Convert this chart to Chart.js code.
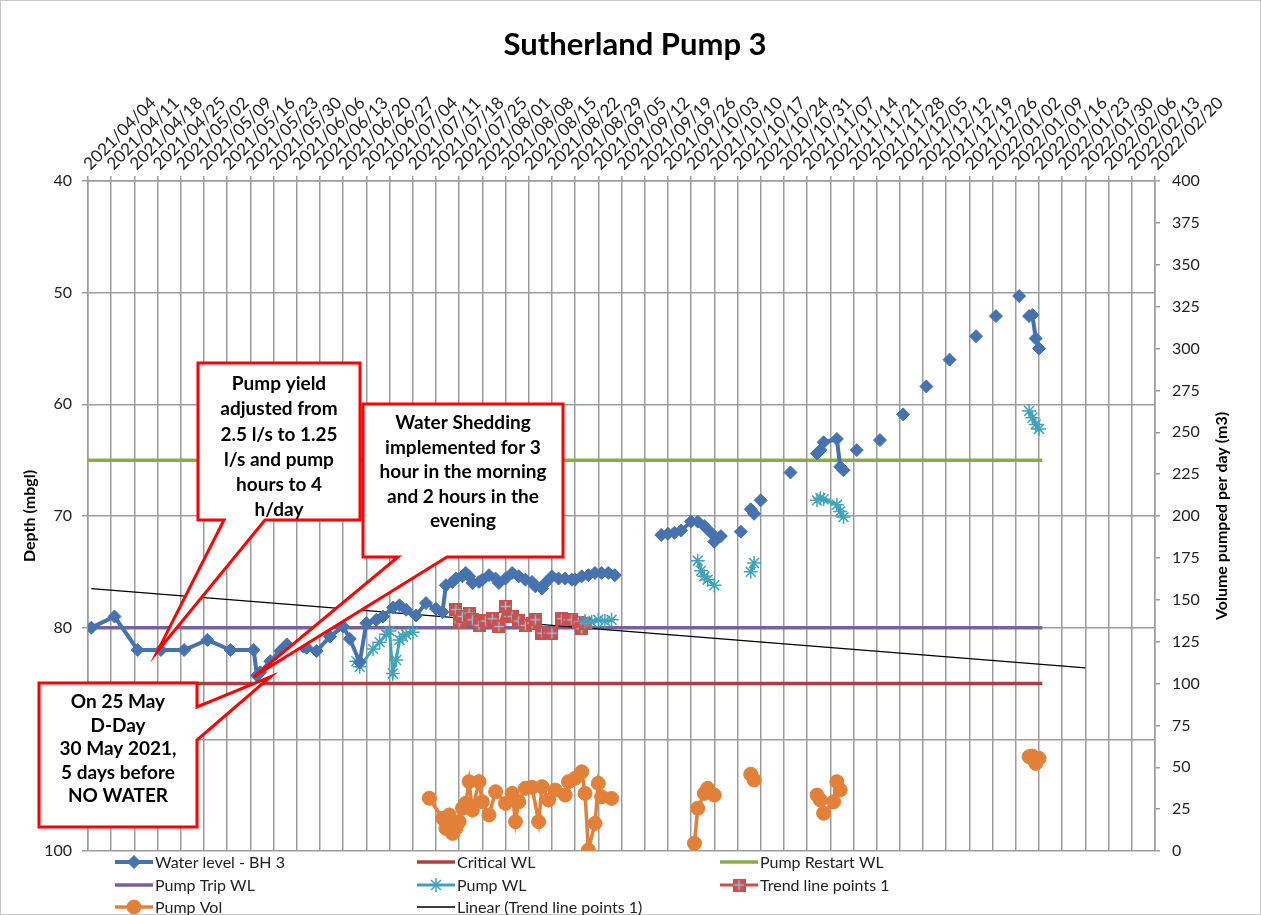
<!DOCTYPE html>
<html>
<head>
<meta charset="utf-8">
<title>Sutherland Pump 3</title>
<script src="https://cdn.jsdelivr.net/npm/chart.js@4.4.1/dist/chart.umd.min.js"></script>
<style>
  html, body { margin: 0; padding: 0; background: #fff; }
  #chart { display: block; }
</style>
</head>
<body>
<canvas id="chart" width="1261" height="915"></canvas>
<script>
// x axis runs weekly from the first to the last date label
const startDate = '2021/04/04';
const endDate = '2022/02/20';

// null = gap in the line
const waterDates = [
  '2021/04/05', '2021/04/12', '2021/04/19', '2021/04/26', '2021/05/03', '2021/05/10', '2021/05/17', '2021/05/24',
  '2021/05/25', '2021/05/26', '2021/05/29', '2021/06/01', '2021/06/03', '2021/06/08', '2021/06/09', '2021/06/12',
  '2021/06/16', '2021/06/20', '2021/06/22', '2021/06/25', '2021/06/27', '2021/06/30', '2021/07/02', '2021/07/05',
  '2021/07/07', '2021/07/09', '2021/07/12', '2021/07/15', '2021/07/18', '2021/07/20', '2021/07/21', '2021/07/23',
  '2021/07/24', '2021/07/26', '2021/07/27', '2021/07/28', '2021/07/29', '2021/07/31', '2021/08/01', '2021/08/03',
  '2021/08/05', '2021/08/06', '2021/08/08', '2021/08/10', '2021/08/12', '2021/08/14', '2021/08/16', '2021/08/17',
  '2021/08/19', '2021/08/20', '2021/08/22', '2021/08/24', '2021/08/26', '2021/08/28', '2021/08/29', '2021/08/31',
  '2021/09/02', '2021/09/04', '2021/09/06', '2021/09/08', '2021/09/10', null,
  '2021/09/24', '2021/09/26', '2021/09/28', '2021/09/30', '2021/10/03', '2021/10/05', '2021/10/07', '2021/10/09',
  '2021/10/10', '2021/10/12', null, '2021/10/18', null, '2021/10/21', '2021/10/22', null, '2021/10/24', null,
  '2021/11/02', null, '2021/11/10', '2021/11/11', '2021/11/12', '2021/11/16', '2021/11/17', '2021/11/18', null,
  '2021/11/22', null, '2021/11/29', null, '2021/12/06', null, '2021/12/13', null, '2021/12/20', null,
  '2021/12/28', null, '2022/01/03', null, '2022/01/10', null, '2022/01/13', '2022/01/14', '2022/01/15', '2022/01/16'
];
const waterLevel = [
  80.0, 79.0, 82.0, 82.0, 82.0, 81.1, 82.0, 82.0,
  84.3, 84.0, 83.0, 82.1, 81.5, 81.7, 81.8, 82.1,
  80.8, 79.9, 81.0, 83.1, 79.6, 79.3, 79.0, 78.2,
  78.0, 78.4, 78.9, 77.8, 78.3, 78.6, 76.2, 75.9,
  75.6, 75.4, 75.1, 75.4, 76.0, 75.9, 75.7, 75.3,
  75.6, 76.0, 75.6, 75.1, 75.4, 75.7, 75.9, 76.3,
  76.5, 76.0, 75.4, 75.6, 75.6, 75.7, 75.7, 75.4,
  75.3, 75.1, 75.1, 75.1, 75.3, null,
  71.7, 71.6, 71.5, 71.3, 70.5, 70.5, 70.9, 71.5,
  72.3, 71.8, null, 71.4, null, 69.4, 69.8, null, 68.6, null,
  66.1, null, 64.4, 64.1, 63.4, 63.1, 65.6, 65.9, null,
  64.1, null, 63.2, null, 60.9, null, 58.4, null, 56.0, null,
  53.9, null, 52.1, null, 50.3, null, 52.1, 52.0, 54.1, 55.0
];

const pumpWlDates = [
  '2021/06/24', '2021/06/25', '2021/06/29', '2021/07/01', '2021/07/03', '2021/07/04', '2021/07/05', '2021/07/06',
  '2021/07/07', '2021/07/08', '2021/07/09', '2021/07/11', null,
  '2021/09/01', '2021/09/03', '2021/09/05', '2021/09/07', '2021/09/09', null,
  '2021/10/05', '2021/10/06', '2021/10/07', '2021/10/08', '2021/10/10', null,
  '2021/10/21', '2021/10/22', null,
  '2021/11/10', '2021/11/11', '2021/11/12', '2021/11/16', '2021/11/17', '2021/11/18', null,
  '2022/01/13', '2022/01/14', '2022/01/15', '2022/01/16'
];
const pumpWl = [
  83.0, 83.5, 81.9, 81.3, 80.6, 80.3, 84.1, 82.9,
  81.1, 80.8, 80.6, 80.4, null,
  79.4, 79.5, 79.3, 79.4, 79.3, null,
  74.0, 74.9, 75.4, 75.7, 76.2, null,
  75.0, 74.2, null,
  68.6, 68.4, 68.5, 69.0, 69.6, 70.1, null,
  60.6, 61.2, 61.8, 62.2
];

const trendPtDates = [
  '2021/07/24', '2021/07/25', '2021/07/26', '2021/07/28', '2021/07/29', '2021/07/31', '2021/08/02', '2021/08/04',
  '2021/08/06', '2021/08/08', '2021/08/09', '2021/08/10', '2021/08/12', '2021/08/14', '2021/08/16', '2021/08/17',
  '2021/08/19', '2021/08/21', '2021/08/22', '2021/08/25', '2021/08/27', '2021/08/28', '2021/08/30', '2021/08/31',
  '2021/09/01'
];
const trendPts = [
  78.4, 79.5, 79.0, 78.7, 79.3, 79.8, 79.4, 79.2,
  79.9, 78.1, 79.0, 79.0, 79.4, 79.8, 79.6, 79.3,
  80.5, 80.5, 80.5, 79.2, 79.3, 79.3, 79.5, 80.1,
  79.6
];

const volDates = [
  '2021/07/16', '2021/07/20', '2021/07/21', '2021/07/22', '2021/07/23', '2021/07/24', '2021/07/25', '2021/07/26',
  '2021/07/27', '2021/07/28', '2021/07/29', '2021/07/31', '2021/08/01', '2021/08/03', '2021/08/05', '2021/08/08',
  '2021/08/10', '2021/08/11', '2021/08/12', '2021/08/14', '2021/08/16', '2021/08/18', '2021/08/19', '2021/08/21',
  '2021/08/23', '2021/08/26', '2021/08/27', '2021/08/29', '2021/08/31', '2021/09/01', '2021/09/02', '2021/09/04',
  '2021/09/05', '2021/09/06', '2021/09/09', null,
  '2021/10/04', '2021/10/05', '2021/10/07', '2021/10/08', '2021/10/10', null,
  '2021/10/21', '2021/10/22', null,
  '2021/11/10', '2021/11/11', '2021/11/12', '2021/11/15', '2021/11/16', '2021/11/17', null,
  '2022/01/13', '2022/01/14', '2022/01/15', '2022/01/16'
];
const pumpVol = [
  31.5, 19.5, 13.5, 21.5, 10.5, 13.5, 17.5, 25.5,
  28.5, 41.4, 24.5, 41.4, 29.4, 21.5, 35.4, 28.4,
  34.4, 17.5, 29.4, 37.4, 38.0, 17.5, 38.4, 30.4,
  36.4, 33.4, 41.4, 43.4, 47.3, 34.4, 0.6, 16.5,
  40.4, 32.4, 31.4, null,
  4.6, 25.5, 34.4, 37.4, 33.4, null,
  45.8, 42.4, null,
  33.4, 30.4, 22.5, 29.4, 41.4, 36.4, null,
  56.3, 56.7, 52.3, 55.3
];

// level reference lines
const refLineDates = ['2021/04/04', '2022/01/17'];
const criticalWL = [85, 85];
const restartWL = [65, 65];
const tripWL = [80, 80];

// linear trend (as drawn by the spreadsheet)
const linearDates = ['2021/04/05', '2022/01/30'];
const linearTrend = [76.5, 83.6];

const FONT = "Lato, 'Liberation Sans', sans-serif";
const DAY = 86400000;
const t0 = Date.UTC(2021, 3, 4);

function dayOf(s) {
  const [y, m, d] = s.split('/').map(Number);
  return Math.round((Date.UTC(y, m - 1, d) - t0) / DAY);
}
function fmtDay(v) {
  const d = new Date(t0 + v * DAY);
  const p = n => String(n).padStart(2, '0');
  return d.getUTCFullYear() + '/' + p(d.getUTCMonth() + 1) + '/' + p(d.getUTCDate());
}
function toPoints(dates, values) {
  let last = 0;
  return dates.map((d, i) => {
    if (d !== null) last = dayOf(d);
    return { x: last, y: values[i] };
  });
}

// red square with a light blue plus, used for "Trend line points 1"
const trendMarker = (() => {
  const c = document.createElement('canvas');
  c.width = 13; c.height = 13;
  const g = c.getContext('2d');
  g.fillStyle = '#C9504C';
  g.fillRect(0, 0, 13, 13);
  g.strokeStyle = '#9DB8DE';
  g.lineWidth = 1.5;
  g.beginPath();
  g.moveTo(6.5, 1.5); g.lineTo(6.5, 11.5);
  g.moveTo(1.5, 6.5); g.lineTo(11.5, 6.5);
  g.stroke();
  return c;
})();

const callouts = [
  {
    box: [198, 363, 360, 520], side: 'bottom', base: [224, 265],
    tip: { date: '2021/04/25', depth: 82.1 },
    lines: ['Pump yield', 'adjusted from', '2.5 l/s to 1.25', 'l/s and pump', 'hours to 4', 'h/day'],
    top: 384, step: 25.2
  },
  {
    box: [363, 404, 563, 557], side: 'bottom', base: [398, 447],
    tip: { date: '2021/05/24', depth: 84.4 },
    lines: ['Water Shedding', 'implemented for 3', 'hour in the morning', 'and 2 hours in the', 'evening'],
    top: 423, step: 24.5
  },
  {
    box: [39, 683, 197, 827], side: 'right', base: [707, 740],
    tip: { date: '2021/05/29', depth: 84.4 },
    lines: ['On 25 May', 'D-Day', '30 May 2021,', '5 days before', 'NO WATER'],
    top: 702, step: 23.5
  }
];

function drawCallout(ctx, c, tx, ty) {
  const [x1, y1, x2, y2] = c.box;
  ctx.beginPath();
  ctx.moveTo(x1, y1);
  ctx.lineTo(x2, y1);
  if (c.side === 'bottom') {
    ctx.lineTo(x2, y2);
    ctx.lineTo(c.base[1], y2);
    ctx.lineTo(tx, ty);
    ctx.lineTo(c.base[0], y2);
  } else {
    ctx.lineTo(x2, c.base[0]);
    ctx.lineTo(tx, ty);
    ctx.lineTo(x2, c.base[1]);
    ctx.lineTo(x2, y2);
  }
  ctx.lineTo(x1, y2);
  ctx.closePath();
  ctx.fillStyle = '#fff';
  ctx.fill();
  ctx.strokeStyle = '#FF0000';
  ctx.lineWidth = 3;
  ctx.lineJoin = 'miter';
  ctx.stroke();
  ctx.fillStyle = '#000';
  ctx.font = 'bold 19px ' + FONT;
  ctx.textAlign = 'center';
  ctx.textBaseline = 'middle';
  c.lines.forEach((s, i) => ctx.fillText(s, (x1 + x2) / 2, c.top + i * c.step));
}

const decor = {
  id: 'decor',
  afterDraw(chart) {
    const { ctx, scales } = chart;
    ctx.save();

    // chart frame
    ctx.strokeStyle = '#c8c8c8';
    ctx.lineWidth = 1;
    ctx.strokeRect(0.5, 0.5, chart.width - 1, chart.height - 1);

    // title
    ctx.fillStyle = '#000';
    ctx.font = 'bold 31px ' + FONT;
    ctx.textAlign = 'center';
    ctx.textBaseline = 'middle';
    ctx.fillText('Sutherland Pump 3', 635, 45);

    // axis titles
    ctx.font = 'bold 16px ' + FONT;
    ctx.save();
    ctx.translate(30, (chart.chartArea.top + chart.chartArea.bottom) / 2);
    ctx.rotate(-Math.PI / 2);
    ctx.fillText('Depth (mbgl)', 0, 0);
    ctx.restore();
    ctx.save();
    ctx.translate(1222, (chart.chartArea.top + chart.chartArea.bottom) / 2);
    ctx.rotate(-Math.PI / 2);
    ctx.fillText('Volume pumped per day (m3)', 0, 0);
    ctx.restore();

    // callouts
    callouts.forEach(c => {
      const tx = scales.x.getPixelForValue(dayOf(c.tip.date));
      const ty = scales.y.getPixelForValue(c.tip.depth);
      drawCallout(ctx, c, tx, ty);
    });

    // legend, three columns
    const cols = [115, 417, 720];
    const rows = [862, 885, 907];
    const H = Chart.helpers;
    chart.data.datasets.forEach((ds, i) => {
      const x = cols[i % 3];
      const y = rows[Math.floor(i / 3)];
      ctx.strokeStyle = ds.borderColor;
      ctx.lineWidth = ds.legendWidth || ds.borderWidth;
      ctx.lineCap = 'butt';
      ctx.beginPath();
      ctx.moveTo(x, y);
      ctx.lineTo(x + 38, y);
      ctx.stroke();
      if (ds.pointRadius > 0 && H && H.drawPoint) {
        ctx.fillStyle = ds.pointBackgroundColor;
        ctx.strokeStyle = ds.pointBorderColor;
        ctx.lineWidth = ds.pointBorderWidth;
        H.drawPoint(ctx, {
          pointStyle: ds.pointStyle, radius: ds.pointRadius,
          rotation: 0, borderWidth: ds.pointBorderWidth
        }, x + 19, y);
      }
      ctx.fillStyle = '#222';
      ctx.font = '16px ' + FONT;
      ctx.textAlign = 'left';
      ctx.textBaseline = 'middle';
      ctx.fillText(ds.label, x + 40, y + 1);
    });

    ctx.restore();
  }
};

const GRID = '#9c9c9c';
const TICK = '#222';

new Chart(document.getElementById('chart'), {
  type: 'line',
  data: {
    datasets: [
      {
        label: 'Water level - BH 3', data: toPoints(waterDates, waterLevel), yAxisID: 'y',
        borderColor: '#4672B0', backgroundColor: '#4672B0', borderWidth: 4,
        pointStyle: 'rectRot', pointRadius: 6.5, pointBackgroundColor: '#4672B0',
        pointBorderColor: '#4672B0', pointBorderWidth: 1, order: 1
      },
      {
        label: 'Critical WL', data: toPoints(refLineDates, criticalWL), yAxisID: 'y',
        borderColor: '#A8423F', borderWidth: 3.5, pointRadius: 0, order: 6
      },
      {
        label: 'Pump Restart WL', data: toPoints(refLineDates, restartWL), yAxisID: 'y',
        borderColor: '#8BAA4A', borderWidth: 3.5, pointRadius: 0, order: 6
      },
      {
        label: 'Pump Trip WL', data: toPoints(refLineDates, tripWL), yAxisID: 'y',
        borderColor: '#7B5E9E', borderWidth: 3.5, pointRadius: 0, order: 6
      },
      {
        label: 'Pump WL', data: toPoints(pumpWlDates, pumpWl), yAxisID: 'y',
        borderColor: '#3FA3BC', backgroundColor: '#3FA3BC', borderWidth: 3,
        pointStyle: 'star', pointRadius: 7, pointBackgroundColor: '#3FA3BC',
        pointBorderColor: '#3FA3BC', pointBorderWidth: 1.5, order: 2
      },
      {
        label: 'Trend line points 1', data: toPoints(trendPtDates, trendPts), yAxisID: 'y',
        borderColor: '#C9504C', backgroundColor: '#C9504C', borderWidth: 3,
        pointStyle: trendMarker, pointRadius: 6, pointBackgroundColor: '#C9504C',
        pointBorderColor: '#C9504C', pointBorderWidth: 0, order: 3
      },
      {
        label: 'Pump Vol', data: toPoints(volDates, pumpVol), yAxisID: 'y1',
        borderColor: '#E2803A', backgroundColor: '#E2803A', borderWidth: 3.5,
        pointStyle: 'circle', pointRadius: 7, pointBackgroundColor: '#E2803A',
        pointBorderColor: '#E2803A', pointBorderWidth: 1, order: 2
      },
      {
        label: 'Linear (Trend line points 1)', data: toPoints(linearDates, linearTrend), yAxisID: 'y',
        borderColor: '#000', borderWidth: 1.2, legendWidth: 1.5, pointRadius: 0, order: 4
      }
    ]
  },
  options: {
    responsive: false,
    animation: false,
    devicePixelRatio: 1,
    layout: { padding: { top: 0, left: 0, right: 0, bottom: 64 } },
    plugins: {
      legend: { display: false },
      title: { display: false },
      tooltip: { enabled: false }
    },
    elements: { line: { tension: 0 } },
    scales: {
      x: {
        type: 'linear',
        position: 'top',
        min: 0,
        max: dayOf(endDate),
        afterFit(s) { s.height = 181; },
        ticks: {
          stepSize: 7, autoSkip: false, minRotation: 45, maxRotation: 45,
          padding: 2, labelOffset: 13, color: TICK, font: { family: FONT, size: 17 },
          callback: v => fmtDay(v)
        },
        grid: { color: GRID, lineWidth: 1.5, tickLength: 5 },
        border: { color: GRID, width: 1.5 }
      },
      y: {
        position: 'left',
        reverse: true,
        min: 40,
        max: 100,
        afterFit(s) { s.width = 88; },
        ticks: { stepSize: 10, padding: 10, color: TICK, font: { family: FONT, size: 16 } },
        grid: { color: GRID, lineWidth: 1.5, tickLength: 6 },
        border: { color: GRID, width: 1.5 }
      },
      y1: {
        position: 'right',
        min: 0,
        max: 400,
        afterFit(s) { s.width = 106; },
        ticks: { stepSize: 25, padding: 12, color: TICK, font: { family: FONT, size: 16 } },
        grid: { drawOnChartArea: false, color: GRID, lineWidth: 1.5, tickLength: 5 },
        border: { color: GRID, width: 1.5 }
      }
    }
  },
  plugins: [decor]
});
</script>
</body>
</html>
